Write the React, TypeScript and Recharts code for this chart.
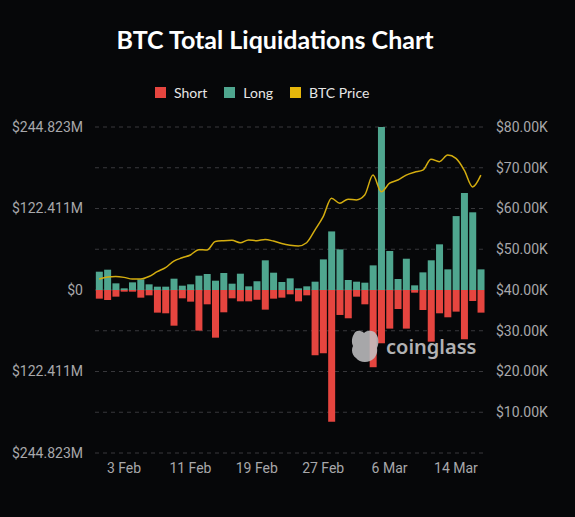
import React from 'react';
import {
  ComposedChart,
  Bar,
  Line,
  XAxis,
  YAxis,
  CartesianGrid,
  Legend,
} from 'recharts';

const dates = [
  '31 Jan', '1 Feb', '2 Feb', '3 Feb', '4 Feb', '5 Feb', '6 Feb', '7 Feb', '8 Feb', '9 Feb',
  '10 Feb', '11 Feb', '12 Feb', '13 Feb', '14 Feb', '15 Feb', '16 Feb', '17 Feb', '18 Feb', '19 Feb',
  '20 Feb', '21 Feb', '22 Feb', '23 Feb', '24 Feb', '25 Feb', '26 Feb', '27 Feb', '28 Feb', '29 Feb',
  '1 Mar', '2 Mar', '3 Mar', '4 Mar', '5 Mar', '6 Mar', '7 Mar', '8 Mar', '9 Mar', '10 Mar',
  '11 Mar', '12 Mar', '13 Mar', '14 Mar', '15 Mar', '16 Mar', '17 Mar',
];

// liquidations in $M
const longLiq = [
  27.5, 30.5, 10, 2.5, 11.5, 16, 8.5, 5, 5, 17,
  6.5, 8.5, 21.5, 24, 14, 25.5, 9.5, 24.5, 5.5, 13,
  44.6, 26, 12, 17.5, 2.5, 5.5, 12.5, 46, 88, 61,
  15, 12.5, 11, 37, 244.8, 58.6, 16.5, 47, 7, 26.5,
  44.6, 68.6, 31, 111, 145.7, 116.7, 31,
];

const shortLiq = [
  13, 15, 10, 2.5, 2.5, 11.5, 8, 34, 35, 53.6,
  12.5, 17.5, 61, 21.5, 71.6, 33.5, 12.5, 17, 17, 14.5,
  29.5, 13, 11.5, 6.5, 17, 8, 98, 95, 197.8, 37.5,
  42.5, 10, 21.5, 116, 80, 58, 28.5, 58, 4, 30,
  77.6, 35, 41, 32.5, 74, 16.5, 34,
];

// BTC price in $K
const btcPrice = [
  42.7, 43.2, 43.3, 43.1, 42.7, 42.7, 43.3, 44.5, 45.5, 47.1,
  47.9, 48.6, 49.9, 49.8, 51.9, 52.1, 52.2, 51.6, 52.3, 52.1,
  52.4, 52.0, 51.4, 51.0, 50.8, 51.6, 54.7, 58.0, 62.5, 61.3,
  62.3, 62.1, 63.3, 68.2, 64.1, 66.2, 67.0, 68.2, 68.9, 69.4,
  72.1, 71.5, 73.1, 72.3, 69.4, 65.3, 68.2,
];

const xTicks = ['3 Feb', '11 Feb', '19 Feb', '27 Feb', '6 Mar', '14 Mar'];
const leftTicks = [-244.823, -183.617, -122.411, -61.206, 0, 61.206, 122.411, 183.617, 244.823];
const rightTicks = [10, 20, 30, 40, 50, 60, 70, 80];

const data = dates.map((d, i) => ({
  date: d,
  long: longLiq[i],
  short: -shortLiq[i],
  price: btcPrice[i],
}));

const RED = '#e5453f';
const TEAL = '#4fa68f';
const GOLD = '#d4ad0f';
const AXIS_TEXT = '#a8a8ab';

const legendItems = [
  { name: 'Short', color: RED },
  { name: 'Long', color: TEAL },
  { name: 'BTC Price', color: '#e6b70b' },
];

const LegendContent = () => (
  <div style={{ display: 'flex', alignItems: 'center', paddingLeft: 155, height: 20 }}>
    {legendItems.map((it) => (
      <div key={it.name} style={{ display: 'flex', alignItems: 'center', marginRight: 17 }}>
        <span style={{ width: 11, height: 11, background: it.color, display: 'inline-block', marginRight: 8 }} />
        <span style={{ color: '#e6e6e6', fontSize: 14, fontFamily: 'Lato, sans-serif' }}>{it.name}</span>
      </div>
    ))}
  </div>
);

const leftFormat = (v: number, i: number) => {
  if (i % 2 === 1) return '';
  if (v === 0) return '$0';
  return `$${Math.abs(v).toFixed(3)}M`;
};

export default function App() {
  return (
    <div
      style={{
        position: 'absolute',
        left: 0,
        top: 0,
        width: 575,
        height: 517,
        background: '#060709',
        overflow: 'hidden',
      }}
    >
      <div
        style={{
          position: 'absolute',
          left: 0,
          top: 24,
          width: 550,
          textAlign: 'center',
          color: '#ffffff',
          fontFamily: 'Lato, sans-serif',
          fontWeight: 700,
          fontSize: 25,
        }}
      >
        BTC Total Liquidations Chart
      </div>
      <ComposedChart
        width={575}
        height={517}
        data={data}
        stackOffset="sign"
        barCategoryGap="10%"
        margin={{ top: 107, right: 0, bottom: 34, left: 0 }}
      >
        <CartesianGrid
          yAxisId="left"
          vertical={false}
          stroke="#38383c"
          strokeDasharray="4 4"
        />
        <XAxis
          dataKey="date"
          ticks={xTicks}
          interval={0}
          axisLine={false}
          tickLine={false}
          tickSize={0}
          tickMargin={10}
          height={30}
          tick={{ fill: AXIS_TEXT, fontSize: 14, fontFamily: 'Roboto, sans-serif' }}
        />
        <YAxis
          yAxisId="left"
          width={95}
          domain={[-244.823, 244.823]}
          ticks={leftTicks}
          interval={0}
          tickFormatter={leftFormat}
          axisLine={false}
          tickLine={false}
          tickSize={0}
          tickMargin={12}
          tick={{ fill: AXIS_TEXT, fontSize: 14, fontFamily: 'Roboto, sans-serif' }}
        />
        <YAxis
          yAxisId="right"
          orientation="right"
          width={90}
          domain={[0, 80]}
          ticks={rightTicks}
          interval={0}
          tickFormatter={(v: number) => `$${v.toFixed(2)}K`}
          axisLine={false}
          tickLine={false}
          tickSize={0}
          tickMargin={11}
          tick={{ fill: AXIS_TEXT, fontSize: 14, fontFamily: 'Roboto, sans-serif' }}
        />
        <Legend
          verticalAlign="top"
          content={<LegendContent />}
          wrapperStyle={{ top: 82, left: 0, width: 575 }}
        />
        <Bar yAxisId="left" dataKey="long" name="Long" stackId="liq" fill={TEAL} isAnimationActive={false} />
        <Bar yAxisId="left" dataKey="short" name="Short" stackId="liq" fill={RED} isAnimationActive={false} />
        <Line
          yAxisId="right"
          type="monotone"
          dataKey="price"
          name="BTC Price"
          stroke={GOLD}
          strokeWidth={1.5}
          dot={false}
          isAnimationActive={false}
        />
      </ComposedChart>
      <div
        style={{
          position: 'absolute',
          left: 350,
          top: 328,
          display: 'flex',
          alignItems: 'center',
          pointerEvents: 'none',
          opacity: 0.85,
        }}
      >
        <svg width={30} height={36} viewBox="0 0 30 36">
          <path
            d="M4 6 C6 1 12 3 14 5 C17 2 24 2 26 6 C29 9 29 16 27 20 C28 26 25 31 20 33 C15 35 9 34 6 30 C2 27 1 22 3 18 C1 14 2 9 4 6 Z"
            fill="#c4c4c6"
          />
        </svg>
        <span
          style={{
            marginLeft: 6,
            color: '#d0d0d2',
            fontFamily: '"Noto Sans", sans-serif',
            fontWeight: 600,
            fontSize: 20,
            letterSpacing: 0,
          }}
        >
          coinglass
        </span>
      </div>
    </div>
  );
}
